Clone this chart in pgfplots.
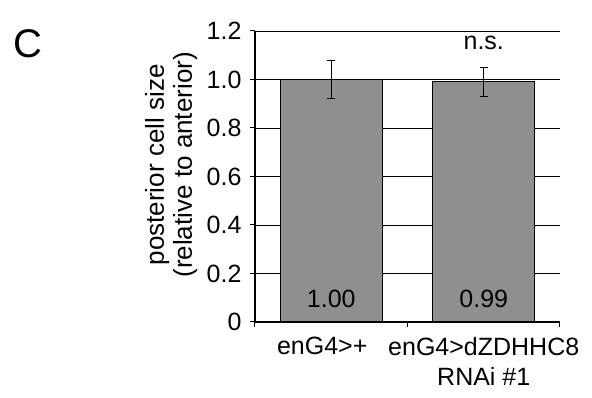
\documentclass[border=0pt]{standalone}
\usepackage{pgfplots}
\pgfplotsset{compat=1.18}
\usepackage{fontspec}
\setmainfont{Liberation Sans}
\definecolor{bargray}{RGB}{143,143,143}
\begin{document}
\fontsize{25}{30}\selectfont
\begin{tikzpicture}[x=1pt,y=1pt]
\path[use as bounding box] (-255,-76) rectangle (337,322);
\begin{axis}[
  at={(0,0)}, anchor=south west,
  scale only axis, width=305pt, height=291pt,
  xmin=-0.5, xmax=1.5, ymin=0, ymax=1.2,
  axis x line=bottom, axis y line=left,
  axis line style={-, black, line width=1.2pt},
  ytick={0,0.2,0.4,0.6,0.8,1.0,1.2},
  yticklabels={0,0.2,0.4,0.6,0.8,1.0,1.2},
  ymajorgrids, grid style={black, line width=0.9pt},
  xtick={0,1},
  xticklabels={{enG4>+\hspace*{18pt}},{enG4>dZDHHC8\\RNAi \#1}},
  major x tick style={draw=none},
  minor xtick={-0.5,0.5,1.5},
  tick align=outside, major tick length=5pt, minor tick length=5pt,
  tick style={black, line width=1pt},
  every tick label/.append style={font=\fontsize{25}{30}\selectfont},
  x tick label style={align=center, yshift=-2pt},
  /pgf/number format/assume math mode=true,
  ylabel={posterior cell size\\(relative to anterior)},
  ylabel style={align=center, at={(axis description cs:-0.161,0.54)}, anchor=south, rotate=0, font=\fontsize{26}{28}\selectfont},
  clip=false,
]
\addplot[ybar, bar width=0.67, fill=bargray, draw=black, line width=1pt,
  error bars/.cd, y dir=both, y explicit,
  error bar style={line width=1pt, black},
  error mark options={rotate=90, mark size=4pt, line width=1pt, black}]
  coordinates {(0,1.00) +- (0,0.078) (1,0.99) +- (0,0.06)};
\node at (axis cs:0,0.095) {1.00};
\node at (axis cs:1,0.095) {0.99};
\node at (axis cs:1,1.15) {n.s.};
\end{axis}
\node[anchor=base west, inner sep=0, font=\fontsize{40}{40}\selectfont] at (-242,264) {C};
\end{tikzpicture}
\end{document}
